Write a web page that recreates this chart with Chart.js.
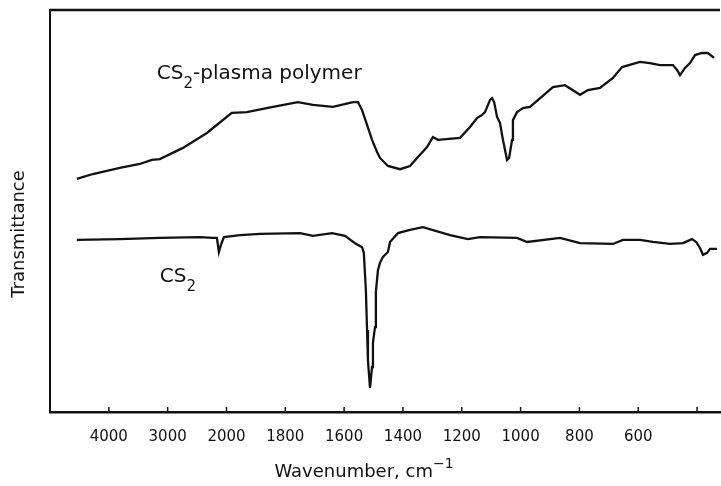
<!DOCTYPE html>
<html>
<head>
<meta charset="utf-8">
<title>IR spectra: CS2 and CS2-plasma polymer</title>
<script src="https://cdn.jsdelivr.net/npm/chart.js@4.4.1/dist/chart.umd.min.js"></script>
<style>
  html, body { margin: 0; padding: 0; background: #fff; }
  #wrap { width: 721px; height: 486px; }
</style>
</head>
<body>
<div id="wrap"><canvas id="chart" width="721" height="486"></canvas></div>
<script>
// Trace values: wavenumber (cm-1) and transmittance (arbitrary 0-100)
const polymerWn = [4544, 4272, 3813, 3473, 3269, 3133, 2741, 2333, 1982, 1931, 1842, 1757, 1706, 1638, 1570, 1553,
  1539, 1522, 1505, 1488, 1478, 1451, 1410, 1376, 1352, 1318, 1298, 1281, 1206, 1172, 1148, 1131, 1121, 1104,
  1097, 1090, 1080, 1070, 1060, 1046, 1039, 1029, 1026, 1012, 992, 968, 890, 849, 798, 771, 730, 686, 655,
  594, 560, 526, 482, 468, 458, 441, 424, 407, 383, 363, 342];
const polymerT = [58.0, 59.2, 60.7, 61.7, 62.7, 62.9, 65.7, 69.4, 74.4, 74.6, 75.9, 77.1, 76.4, 75.9, 77.1, 77.1,
  75.1, 71.4, 67.7, 64.7, 63.2, 61.2, 60.4, 61.2, 63.2, 65.9, 68.4, 67.7, 68.2, 70.9, 73.1, 73.9, 74.6, 77.6,
  78.1, 77.1, 73.4, 71.9, 67.7, 62.7, 63.2, 67.7, 72.6, 74.6, 75.6, 75.9, 80.8, 81.3, 78.9, 80.1, 80.6, 83.1, 85.8,
  87.1, 86.8, 86.3, 86.3, 85.1, 83.8, 85.6, 86.8, 88.8, 89.3, 89.3, 88.1];

const cs2Wn = [4544, 3813, 3133, 2452, 2231, 2163, 2129, 2095, 2044, 1954, 1886, 1750, 1706, 1641, 1597, 1563,
  1539, 1533, 1526, 1522, 1519, 1512, 1505, 1502, 1495, 1492, 1485, 1478, 1468, 1451, 1444, 1417, 1376, 1332,
  1240, 1179, 1138, 1012, 978, 866, 798, 686, 652, 594, 550, 492, 448, 417, 403, 390, 380, 366, 356, 332];
const cs2T = [42.8, 43.0, 43.3, 43.5, 43.3, 43.3, 39.8, 41.5, 43.5, 44.0, 44.3, 44.5, 43.8, 44.5, 43.8, 42.0,
  41.0, 39.6, 30.3, 20.4, 12.9, 6.0, 11.2, 17.2, 21.1, 29.9, 35.3, 37.1, 38.6, 39.8, 42.3, 44.5, 45.3, 46.0,
  44.0, 43.0, 43.5, 43.3, 42.3, 43.3, 42.0, 41.8, 42.8, 42.8, 42.3, 41.8, 42.0, 43.0, 42.3, 40.8, 39.1, 39.6, 40.6, 40.6];

// Axis ticks (the spectrometer changes scale at 2000 cm-1)
const tickWn = [4000, 3000, 2000, 1800, 1600, 1400, 1200, 1000, 800, 600, 400];
const tickLabels = ['4000', '3000', '2000', '1800', '1600', '1400', '1200', '1000', '800', '600', ''];
const wnStart = 5000;
const wnEnd = 322;

const FONT = 'DejaVu Sans';
const INK = '#111';

// map wavenumber onto the split axis: 1000 cm-1 per unit above 2000, 200 cm-1 per unit below
function toAxis(w) {
  return w >= 2000 ? (4000 - w) / 1000 : 2 + (2000 - w) / 200;
}

function toPoints(wn, t) {
  return wn.map((w, i) => ({ x: toAxis(w), y: t[i] }));
}

// draw a run of text pieces, some lowered (subscript) or raised (superscript)
function drawPieces(ctx, pieces, x, y, size) {
  let cx = x;
  pieces.forEach(p => {
    const s = p.sub || p.sup ? Math.round(size * 0.75) : size;
    ctx.font = `${s}px "${FONT}"`;
    const dy = p.sub ? size * 0.42 : p.sup ? -size * 0.5 : 0;
    ctx.fillText(p.t, cx, y + dy);
    cx += ctx.measureText(p.t).width;
  });
}

function piecesWidth(ctx, pieces, size) {
  let w = 0;
  pieces.forEach(p => {
    const s = p.sub || p.sup ? Math.round(size * 0.75) : size;
    ctx.font = `${s}px "${FONT}"`;
    w += ctx.measureText(p.t).width;
  });
  return w;
}

const decorPlugin = {
  id: 'decor',
  afterDraw(chart) {
    const { ctx, chartArea, scales } = chart;
    const x = scales.x;
    const y = scales.y;
    ctx.save();
    ctx.strokeStyle = INK;
    ctx.fillStyle = INK;

    // top frame line
    ctx.lineWidth = 2.5;
    ctx.beginPath();
    ctx.moveTo(chartArea.left, chartArea.top);
    ctx.lineTo(chartArea.right, chartArea.top);
    ctx.stroke();

    // inward tick marks on the bottom axis
    ctx.lineWidth = 1.5;
    tickWn.forEach(w => {
      const px = x.getPixelForValue(toAxis(w));
      ctx.beginPath();
      ctx.moveTo(px, chartArea.bottom);
      ctx.lineTo(px, chartArea.bottom - 5);
      ctx.stroke();
    });

    // curve labels
    ctx.textBaseline = 'alphabetic';
    ctx.textAlign = 'left';
    drawPieces(ctx, [{ t: 'CS' }, { t: '2', sub: true }, { t: '-plasma polymer' }],
      x.getPixelForValue(toAxis(3184)), y.getPixelForValue(82.8), 20);
    drawPieces(ctx, [{ t: 'CS' }, { t: '2', sub: true }],
      x.getPixelForValue(toAxis(3133)), y.getPixelForValue(32.3), 20);

    // x axis title
    const xt = [{ t: 'Wavenumber, cm' }, { t: '\u22121', sup: true }];
    const xw = piecesWidth(ctx, xt, 18);
    drawPieces(ctx, xt, 364 - xw / 2, 477, 18);

    // y axis title
    ctx.translate(24, 234);
    ctx.rotate(-Math.PI / 2);
    ctx.font = `18px "${FONT}"`;
    ctx.textAlign = 'center';
    ctx.fillText('Transmittance', 0, 0);
    ctx.restore();
  }
};

const ctx = document.getElementById('chart').getContext('2d');
new Chart(ctx, {
  type: 'line',
  data: {
    datasets: [
      {
        label: 'CS2-plasma polymer',
        data: toPoints(polymerWn, polymerT),
        borderColor: INK,
        borderWidth: 2.3,
        pointRadius: 0,
        tension: 0
      },
      {
        label: 'CS2',
        data: toPoints(cs2Wn, cs2T),
        borderColor: INK,
        borderWidth: 2.3,
        pointRadius: 0,
        tension: 0
      }
    ]
  },
  options: {
    responsive: false,
    animation: false,
    layout: { padding: { top: 10, right: 1, left: 0, bottom: 0 } },
    plugins: {
      legend: { display: false },
      tooltip: { enabled: false }
    },
    scales: {
      x: {
        type: 'linear',
        min: toAxis(wnStart),
        max: toAxis(wnEnd),
        afterBuildTicks: (scale) => {
          scale.ticks = tickWn.map(w => ({ value: toAxis(w) }));
        },
        afterFit: (scale) => { scale.height = 74; },
        grid: { display: false, drawTicks: false },
        border: { display: true, color: INK, width: 2.5 },
        ticks: {
          padding: 16,
          color: INK,
          maxRotation: 0,
          autoSkip: false,
          font: { family: FONT, size: 15 },
          callback: (value, index) => tickLabels[index]
        }
      },
      y: {
        min: 0,
        max: 100,
        afterFit: (scale) => { scale.width = 50; },
        grid: { display: false, drawTicks: false },
        border: { display: true, color: INK, width: 2 },
        ticks: { display: false }
      }
    }
  },
  plugins: [decorPlugin]
});
</script>
</body>
</html>
